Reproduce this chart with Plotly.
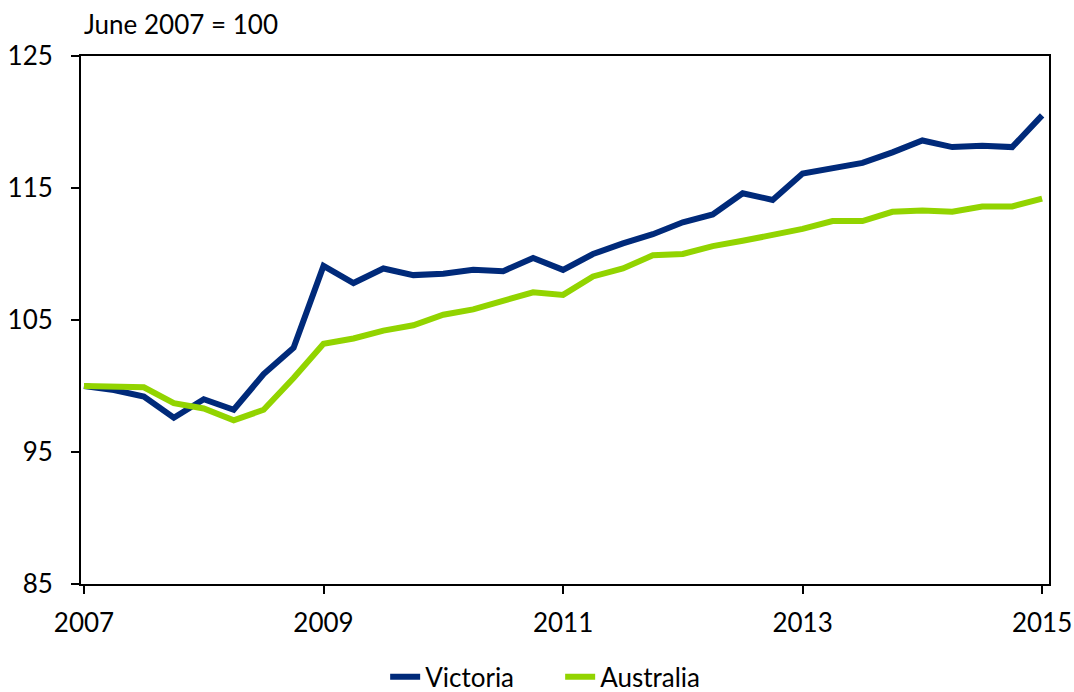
import plotly.graph_objects as go

quarters = list(range(33))
tick_pos = [0, 8, 16, 24, 32]
tick_labels = ["2007", "2009", "2011", "2013", "2015"]

victoria = [100.0, 99.7, 99.2, 97.6, 99.0, 98.2, 100.9, 102.9, 109.1, 107.8, 108.9,
            108.4, 108.5, 108.8, 108.7, 109.7, 108.8, 110.0, 110.8, 111.5, 112.4,
            113.0, 114.6, 114.1, 116.1, 116.5, 116.9, 117.7, 118.6, 118.1, 118.2,
            118.1, 120.5]
australia = [100.0, 99.9, 99.9, 98.7, 98.3, 97.4, 98.2, 100.6, 103.2, 103.6, 104.2,
             104.6, 105.4, 105.8, 106.4, 107.1, 106.9, 108.3, 108.9, 109.9, 110.0,
             110.6, 111.0, 111.4, 111.9, 112.5, 112.5, 113.2, 113.3, 113.2, 113.6,
             113.6, 114.2]

FONT = "Lato"

fig = go.Figure()
fig.add_trace(go.Scatter(x=quarters, y=victoria, mode="lines", name="Victoria",
                         line=dict(color="#002A7A", width=6)))
fig.add_trace(go.Scatter(x=quarters, y=australia, mode="lines", name="Australia",
                         line=dict(color="#92D400", width=6)))

fig.update_layout(
    width=1074, height=692,
    margin=dict(l=81, r=25, t=56, b=108, autoexpand=False),
    plot_bgcolor="white", paper_bgcolor="white",
    font=dict(family=FONT, size=26, color="black"),
    showlegend=True,
    legend=dict(orientation="h", x=0.495, xanchor="center", xref="paper",
                y=-0.176, yanchor="middle", yref="paper",
                font=dict(size=26), tracegroupgap=0, entrywidth=130),
    annotations=[dict(text="June 2007 = 100", xref="paper", yref="paper",
                      x=0, y=1, xanchor="left", yanchor="bottom",
                      xshift=1, yshift=14, showarrow=False,
                      font=dict(size=26))],
)
fig.update_xaxes(range=[-0.1, 32.23], tickmode="array", tickvals=tick_pos,
                 ticktext=tick_labels, showgrid=False, zeroline=False,
                 showline=True, linecolor="black", linewidth=2, mirror=True,
                 ticks="outside", ticklen=8, tickwidth=2, tickcolor="black",
                 automargin=False, ticklabelstandoff=7)
fig.update_yaxes(range=[85, 125], tickmode="array", tickvals=[85, 95, 105, 115, 125],
                 showgrid=False, zeroline=False,
                 showline=True, linecolor="black", linewidth=2, mirror=True,
                 ticks="outside", ticklen=8, tickwidth=2, tickcolor="black",
                 automargin=False, ticklabelstandoff=13)

fig.write_html("out.html", config={"displayModeBar": False},
               post_script="document.body.style.margin='0';document.body.style.padding='0';")
